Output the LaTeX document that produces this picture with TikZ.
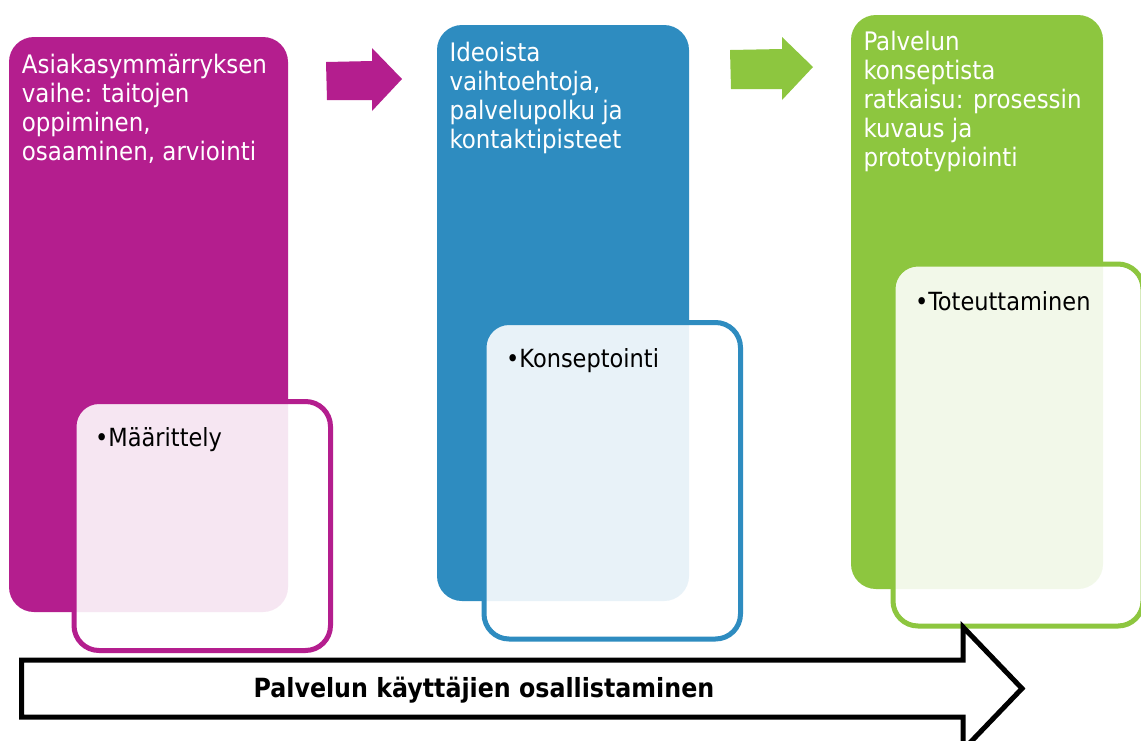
\documentclass[tikz,border=0pt]{standalone}
\usepackage{fontspec}
\setmainfont{DejaVu Sans Condensed}
\definecolor{mag}{RGB}{180,30,142}
\definecolor{blu}{RGB}{46,140,192}
\definecolor{grn}{RGB}{141,198,63}
\begin{document}
\begin{tikzpicture}[x=1pt,y=-1pt,
  phasebox/.style={rounded corners=25pt},
  subbox/.style={rounded corners=25pt, line width=5pt, fill=white, fill opacity=0.89},
  headtxt/.style={anchor=base west, inner sep=0pt, text=white, font=\fontsize{25.5}{29}\selectfont},
  bullettxt/.style={anchor=base west, inner sep=0pt, text=black, font=\fontsize{25}{29}\selectfont}]
\useasboundingbox (0,0) rectangle (1141,740);
\fill[white] (0,0) rectangle (1141,740);

% phase 1
\fill[mag, phasebox] (9,37) rectangle (288,612);
\draw[mag, subbox] (74,401.5) rectangle (330.5,650.5);
\node[headtxt] (h1) at (21.7,73) {\parbox[t]{300pt}{\raggedright Asiakasymmärryksen\\vaihe: taitojen\\oppiminen,\\osaaminen, arviointi}};
\node[bullettxt] (b1) at (95,446.5) {•Määrittely};

% phase 2
\fill[blu, phasebox] (437,25) rectangle (689,601);
\draw[blu, subbox] (484,322.5) rectangle (740.5,639);
\node[headtxt] (h2) at (449.3,61) {\parbox[t]{300pt}{\raggedright Ideoista\\vaihtoehtoja,\\palvelupolku ja\\kontaktipisteet}};
\node[bullettxt] (b2) at (506,367.5) {•Konseptointi};

% phase 3
\fill[grn, phasebox] (851,15) rectangle (1103,589);
\draw[grn, subbox] (893,264) rectangle (1143,626);
\node[headtxt] (h3) at (863.3,50) {\parbox[t]{300pt}{\raggedright Palvelun\\konseptista\\ratkaisu: prosessin\\kuvaus ja\\prototypiointi}};
\node[bullettxt] (b3) at (915,310) {•Toteuttaminen};

% small arrows
\fill[mag] (326,62) -- (372,61) -- (372,48) -- (402,79) -- (372,111) -- (372,100) -- (327,100) -- cycle;
\fill[grn] (730,50) -- (782,49) -- (782,37) -- (813,67) -- (782,100) -- (782,89) -- (731,89) -- cycle;

% big arrow
\draw[black, line width=5pt, miter limit=10] (21.5,660) -- (963,660) -- (963,627) -- (1022,688.5) -- (963,750) -- (963,717) -- (21.5,717) -- cycle;
\node[anchor=base, inner sep=0pt, font=\bfseries\fontsize{26.4}{30}\selectfont] (lbl) at (484,697) {Palvelun käyttäjien osallistaminen};
\end{tikzpicture}
\end{document}
